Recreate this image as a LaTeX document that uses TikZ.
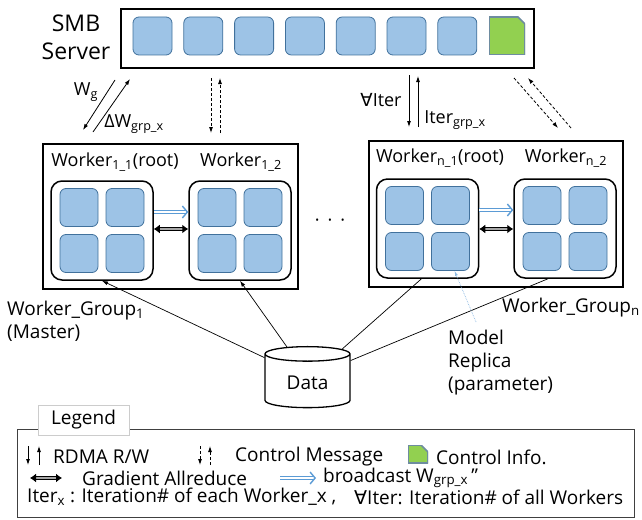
\documentclass[tikz,border=0pt]{standalone}
\usepackage{fontspec}
\setmainfont{Open Sans}
\newfontfamily\symfont{DejaVu Sans}
\usetikzlibrary{arrows.meta,shapes.geometric}

\definecolor{sqblue}{RGB}{157,195,230}
\definecolor{sqedge}{RGB}{65,113,156}
\definecolor{infogreen}{RGB}{146,208,80}
\definecolor{infoedge}{RGB}{110,140,160}
\definecolor{bcblue}{RGB}{91,155,213}

\newcommand\bigfont{\fontsize{23}{28}\selectfont}
\newcommand\lblfont{\fontsize{18}{22}\selectfont}
\newcommand\legfont{\fontsize{19}{23}\selectfont}

\tikzset{
  sq/.style={rectangle, rounded corners=6pt, draw=sqedge, fill=sqblue, line width=0.8pt,
    minimum width=38pt, minimum height=38pt, inner sep=0pt},
  info/.style={minimum width=36pt, minimum height=38pt, inner sep=0pt,
    path picture={\filldraw[fill=infogreen, draw=infoedge, line width=1.6pt]
      (path picture bounding box.south west) -- (path picture bounding box.north west)
      -- ([xshift=-7pt]path picture bounding box.north east)
      -- ([yshift=-7pt]path picture bounding box.north east)
      -- (path picture bounding box.south east) -- cycle;}},
  wbox/.style={draw, line width=1.5pt, rounded corners=11pt, minimum width=102pt, minimum height=99pt},
  gbox/.style={draw, line width=1.3pt},
  rw/.style={-{Latex[length=6pt,width=4pt]}, line width=0.8pt},
  ctrl/.style={rw, dash pattern=on 3pt off 2pt},
  allred/.style={{Latex[length=6pt,width=9pt]}-{Latex[length=6pt,width=9pt]}, double=gray!70,
    double distance=1.6pt, line width=1pt},
  bcast/.style={-{Straight Barb[length=5pt,width=12pt,line width=1.4pt]}, draw=bcblue, double=white,
    double distance=2pt, line width=1pt},
  feed/.style={-{Latex[length=6pt,width=4pt]}, line width=0.7pt},
  lbl/.style={font=\lblfont, inner sep=0pt},
  leg/.style={font=\legfont, inner sep=0pt, anchor=west}
}

\begin{document}
\begin{tikzpicture}[x=1pt, y=-1pt]
\useasboundingbox (0,0) rectangle (642,519);

% SMB server
\node[font=\bigfont, align=center, inner sep=0pt] (smblbl) at (76,37) {SMB\\Server};
\node[draw, line width=1.5pt, minimum width=413pt, minimum height=59pt] (smb) at (327.5,38.5) {};
\foreach \i in {1,...,7}
  \node[sq, minimum width=39pt] (s\i) at ({152.5+50.8*(\i-1)},36) {};
\node[info] (s8) at (507,36) {};

% messages between server and groups
\coordinate (a1) at (115,80);  \coordinate (a2) at (83,130);
\coordinate (a3) at (93,132);  \coordinate (a4) at (130,79);
\coordinate (b1) at (211,78);  \coordinate (b2) at (211,133);
\coordinate (b3) at (220,133); \coordinate (b4) at (220,78);
\coordinate (c1) at (409,75);  \coordinate (c2) at (409,127);
\coordinate (c3) at (418,127); \coordinate (c4) at (418,76);
\coordinate (d1) at (514,78);  \coordinate (d2) at (558,128);
\coordinate (d3) at (571,128); \coordinate (d4) at (528,78);
\draw[rw] (a1) -- (a2);
\draw[rw] (a3) -- (a4);
\draw[ctrl] (b1) -- (b2);
\draw[ctrl] (b3) -- (b4);
\draw[rw] (c1) -- (c2);
\draw[rw] (c3) -- (c4);
\draw[ctrl] (d1) -- (d2);
\draw[ctrl] (d3) -- (d4);
\node[lbl] (wg) at (86,92) {W\textsubscript{g}};
\node[lbl] (dw) at (134,124) {ΔW\textsubscript{grp\_x}};
\node[lbl] (alliter) at (381,100) {{\symfont ∀}Iter};
\node[lbl] (grpiter) at (455,120) {Iter\textsubscript{grp\_x}};

% worker groups
\node[gbox, minimum width=255pt, minimum height=145pt] (g1) at (170.5,216.5) {};
\node[gbox, minimum width=254pt, minimum height=146pt] (gn) at (496,214) {};
\node[wbox] (w11) at (102,230.5) {};
\node[wbox] (w12) at (240,230.5) {};
\node[wbox] (wn1) at (427.5,228.5) {};
\node[wbox] (wn2) at (565,228.5) {};
\foreach \w in {w11,w12,wn1,wn2}
  \foreach \i/\dx/\dy in {1/-23/23, 2/23/23, 3/-23/-23, 4/23/-23}
    \node[sq] (\w-\i) at ([xshift=\dx pt, yshift=\dy pt]\w.center) {};
\node[lbl] (t11) at (115,162) {Worker\textsubscript{1\_1}(root)};
\node[lbl] (t12) at (241,162) {Worker\textsubscript{1\_2}};
\node[lbl] (tn1) at (440,158) {Worker\textsubscript{n\_1}(root)};
\node[lbl] (tn2) at (566,158) {Worker\textsubscript{n\_2}};
\draw[bcast] ([yshift=18.5pt]w11.east) -- ([yshift=18.5pt]w12.west);
\draw[allred] ([yshift=1.5pt]w11.east) -- ([yshift=1.5pt]w12.west);
\draw[bcast] ([yshift=18.5pt]wn1.east) -- ([yshift=18.5pt]wn2.west);
\draw[allred] ([yshift=-0.5pt]wn1.east) -- ([yshift=-0.5pt]wn2.west);
\node[lbl] (dots) at (330,223) {·\hspace{8pt}·\hspace{8pt}·};

% data
\node[cylinder, shape border rotate=90, draw, line width=1.3pt, aspect=0.3,
  minimum width=85pt, minimum height=61pt, font=\legfont] (data) at (307.5,382.5) {Data};
\draw[feed] (data.150) -- (w11.south);
\draw[feed] (data.120) -- (w12.south);
\draw[line width=0.7pt] (data.44) -- ([xshift=-6pt]wn1.south);
\draw[line width=0.7pt] (data.27) -- ([xshift=-17pt]wn2.south);
\coordinate (mr) at (476,322);
\draw[-{Latex[length=5pt,width=3pt]}, draw=bcblue!70, densely dotted, line width=0.7pt] (mr) -- ([xshift=4pt]wn1-4.south);
\node[lbl, font=\legfont, align=left, anchor=west] (g1lbl) at (7,321) {Worker\_Group\textsubscript{1}\\(Master)};
\node[lbl, font=\legfont, anchor=east] (gnlbl) at (640,308) {Worker\_Group\textsubscript{n}};
\node[lbl, font=\legfont, align=left, anchor=west] (mrlbl) at (448,363) {Model\\Replica\\(parameter)};

% legend
\node[draw=black!75, line width=1pt, minimum width=617pt, minimum height=88pt] (legend) at (325.5,473) {};
\node[draw=gray!40, fill=white, font=\legfont, minimum width=91pt, minimum height=30pt, inner sep=0pt] (legtitle) at (83.5,420) {Legend};
\coordinate (l1) at (28,446); \coordinate (l2) at (28,465);
\coordinate (l3) at (39,465); \coordinate (l4) at (39,446);
\coordinate (l5) at (200,446); \coordinate (l6) at (200,465);
\coordinate (l7) at (210,465); \coordinate (l8) at (210,446);
\coordinate (l9) at (30,478); \coordinate (l10) at (62,478);
\coordinate (l11) at (280,478); \coordinate (l12) at (316,478);
\draw[rw] (l1) -- (l2);
\draw[rw] (l3) -- (l4);
\draw[ctrl] (l5) -- (l6);
\draw[ctrl] (l7) -- (l8);
\draw[allred] (l9) -- (l10);
\draw[bcast] (l11) -- (l12);
\node[info, minimum width=20pt, minimum height=18pt] (leginfo) at (418,454) {};
\node[leg] (k1) at (53,457) {RDMA R/W};
\node[leg] (k2) at (235,457) {Control Message};
\node[leg] (k3) at (436,457) {Control Info.};
\node[leg] (k4) at (82,478) {Gradient Allreduce};
\node[leg] (k5) at (323,478) {broadcast W\textsubscript{grp\_x}\,''};
\node[leg] (k6) at (27,497) {Iter\textsubscript{x} : Iteration\# of each Worker\_x ,};
\node[leg] (k7) at (354,497) {{\symfont ∀}Iter: Iteration\# of all Workers};
\end{tikzpicture}
\end{document}
